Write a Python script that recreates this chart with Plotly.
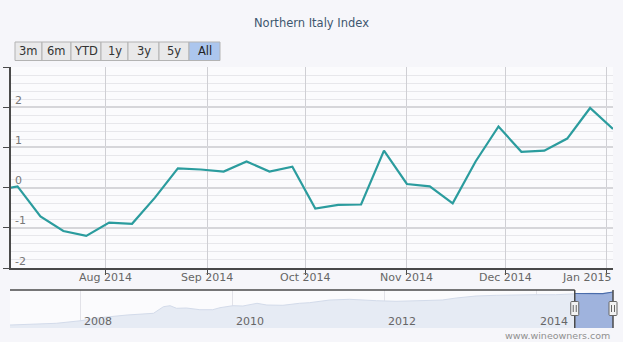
from datetime import date

import plotly.graph_objects as go

W, H = 623, 342

# Weekly index change (Saturdays)
week_dates = [
    "2014-06-28", "2014-07-05", "2014-07-12", "2014-07-19", "2014-07-26",
    "2014-08-02", "2014-08-09", "2014-08-16", "2014-08-23", "2014-08-30",
    "2014-09-06", "2014-09-13", "2014-09-20", "2014-09-27", "2014-10-04",
    "2014-10-11", "2014-10-18", "2014-10-25", "2014-11-01", "2014-11-08",
    "2014-11-15", "2014-11-22", "2014-11-29", "2014-12-06", "2014-12-13",
    "2014-12-20", "2014-12-27", "2015-01-03",
]
index_change = [
    -0.08, 0.03, -0.72, -1.08, -1.20,
    -0.87, -0.90, -0.25, 0.48, 0.45,
    0.40, 0.65, 0.40, 0.52, -0.52,
    -0.43, -0.42, 0.92, 0.09, 0.03,
    -0.39, 0.65, 1.52, 0.89, 0.92,
    1.22, 1.98, 1.46,
]

month_ticks = ["2014-08-01", "2014-09-01", "2014-10-01",
               "2014-11-01", "2014-12-01", "2015-01-01"]
month_labels = ["Aug 2014", "Sep 2014", "Oct 2014",
                "Nov 2014", "Dec 2014", "Jan 2015"]

y_ticks = [-2, -1, 0, 1, 2, 3]
y_labels = ["-2", "-1", "0", "1", "2", ""]

# Long-run index history shown in the navigator
nav_dates = [
    "2007-01-25", "2007-05-15", "2007-09-05", "2008-01-01", "2008-04-01",
    "2008-08-10", "2008-12-15", "2009-02-01", "2009-03-05", "2009-04-05",
    "2009-05-22", "2009-07-26", "2009-09-26", "2009-10-31", "2010-01-01",
    "2010-02-18", "2010-04-27", "2010-06-13", "2010-08-29", "2010-11-17",
    "2011-01-04", "2011-04-12", "2011-07-16", "2011-11-22", "2012-01-01",
    "2012-02-24", "2012-06-14", "2012-10-04", "2012-12-10", "2013-03-15",
    "2013-06-20", "2013-09-25", "2014-01-01", "2014-04-02", "2014-07-03",
    "2014-09-20", "2014-11-15", "2015-01-03",
]
nav_level = [
    3.0, 3.7, 4.7, 7.3, 10.3,
    13.0, 14.7, 21.3, 22.3, 19.7,
    20.0, 18.3, 18.3, 20.3, 22.3,
    22.0, 24.7, 23.0, 22.7, 24.7,
    25.3, 28.0, 28.7, 27.3, 27.1,
    26.7, 27.3, 28.0, 30.0, 32.0,
    32.7, 33.3, 33.3, 33.3, 34.5,
    34.8, 34.4, 36.0,
]
year_ticks = ["2008-01-01", "2010-01-01", "2012-01-01", "2014-01-01"]
year_labels = ["2008", "2010", "2012", "2014"]

range_buttons = ["3m", "6m", "YTD", "1y", "3y", "5y", "All"]
active_button = "All"

view_start, view_end = "2014-07-03", "2015-01-03"
nav_start = "2007-01-25"

FONT = "DejaVu Sans"

MAIN_X = (11, 613)      # main plot, pixel columns
NAV_X = (10, 613)       # navigator, pixel columns


def px_x(p):
    return p / W


def px_y(p):
    return 1 - p / H


def nav_paper_x(d):
    """Paper x of a date on the navigator's linear date axis."""
    t0 = date.fromisoformat(nav_start).toordinal()
    t1 = date.fromisoformat(view_end).toordinal()
    f = (date.fromisoformat(d).toordinal() - t0) / (t1 - t0)
    return px_x(NAV_X[0] + f * (NAV_X[1] - NAV_X[0]))


fig = go.Figure()

# navigator: full history (light) and the selected window (highlighted)
fig.add_trace(go.Scatter(
    x=nav_dates, y=nav_level, xaxis="x2", yaxis="y2", mode="lines",
    line=dict(color="#d3dbea", width=1), fill="tozeroy", fillcolor="#e6ebf4",
    hoverinfo="skip", showlegend=False,
))
sel = [(d, v) for d, v in zip(nav_dates, nav_level) if d >= view_start]
fig.add_trace(go.Scatter(
    x=[d for d, _ in sel], y=[v for _, v in sel], xaxis="x2", yaxis="y2",
    mode="lines", line=dict(color="#4b6dab", width=1.2), fill="tozeroy",
    fillcolor="#9fb3dd", hoverinfo="skip", showlegend=False,
))

# main series
fig.add_trace(go.Scatter(
    x=week_dates, y=index_change, mode="lines",
    line=dict(color="#2b9c9e", width=2.2), showlegend=False,
    name="Northern Italy Index",
))

shapes = []
annotations = []

# navigator outline around the selected window
outline = dict(color="#4a4a4a", width=1.5)
nav_top, nav_bot = 290, 328
shapes.append(dict(type="line", xref="paper", yref="paper",
                   x0=px_x(NAV_X[0]), x1=nav_paper_x(view_start),
                   y0=px_y(nav_top), y1=px_y(nav_top), line=outline))
for d in (view_start, view_end):
    xp = nav_paper_x(d)
    shapes.append(dict(type="line", xref="paper", yref="paper",
                       x0=xp, x1=xp, y0=px_y(nav_bot), y1=px_y(nav_top),
                       line=outline))

# navigator handles
handle_y = px_y(308.5)
for d in (view_start, view_end):
    xp = nav_paper_x(d)
    shapes.append(dict(
        type="path", xref="paper", yref="paper", xsizemode="pixel",
        ysizemode="pixel", xanchor=xp, yanchor=handle_y,
        path="M -3,-7 L 3,-7 Q 4,-7 4,-6 L 4,6 Q 4,7 3,7 L -3,7 "
             "Q -4,7 -4,6 L -4,-6 Q -4,-7 -3,-7 Z",
        fillcolor="#f2f2f2", line=dict(color="#666666", width=1),
    ))
    shapes.append(dict(
        type="path", xref="paper", yref="paper", xsizemode="pixel",
        ysizemode="pixel", xanchor=xp, yanchor=handle_y,
        path="M -1.5,-3.5 L -1.5,3.5 M 1.5,-3.5 L 1.5,3.5",
        line=dict(color="#666666", width=1),
    ))

# range selector buttons
btn_widths = [27, 29, 30, 27, 31, 30, 31]
bx = 15
b_top, b_bot = 42, 60.5
for label, w in zip(range_buttons, btn_widths):
    active = label == active_button
    shapes.append(dict(
        type="rect", xref="paper", yref="paper",
        x0=px_x(bx), x1=px_x(bx + w), y0=px_y(b_bot), y1=px_y(b_top),
        fillcolor="#acc6ee" if active else "#e9e9ea",
        line=dict(color="#b3b3b3", width=1), layer="above",
    ))
    annotations.append(dict(
        text=label, xref="paper", yref="paper",
        x=px_x(bx + w / 2), y=px_y((b_top + b_bot) / 2),
        xanchor="center", yanchor="middle", showarrow=False,
        font=dict(family=FONT, size=11.5, color="#222222" if active else "#333333"),
    ))
    bx += w

# y labels sit just above their gridlines, inside the plot
for v, lab in zip(y_ticks, y_labels):
    if lab:
        annotations.append(dict(
            text=lab, xref="paper", yref="y", x=px_x(MAIN_X[0] + 1.5), y=v,
            xanchor="left", yanchor="middle", yshift=7, showarrow=False,
            font=dict(family=FONT, size=11, color="#777777"),
        ))

# month labels under the main axis; the last one is kept inside the plot edge
for i, (d, lab) in enumerate(zip(month_ticks, month_labels)):
    last = i == len(month_ticks) - 1
    annotations.append(dict(
        text=lab, xref="x", yref="paper",
        x=view_end if last else d, y=px_y(277.5),
        xanchor="right" if last else "center", yanchor="middle",
        showarrow=False, font=dict(family=FONT, size=11, color="#666666"),
    ))

# year labels inside the navigator
for d, lab in zip(year_ticks, year_labels):
    annotations.append(dict(
        text=lab, xref="x2", yref="paper", x=d, y=px_y(321.5),
        xanchor="left", yanchor="middle", xshift=1, showarrow=False,
        font=dict(family=FONT, size=11, color="#666666"),
    ))

# credits
annotations.append(dict(
    text="www.wineowners.com", xref="paper", yref="paper",
    x=px_x(612), y=px_y(335.5), xanchor="right", yanchor="middle",
    showarrow=False, font=dict(family=FONT, size=9.5, color="#909090"),
))

fig.update_layout(
    width=W, height=H,
    margin=dict(l=0, r=0, t=0, b=0),
    paper_bgcolor="#f6f6fa",
    plot_bgcolor="#fbfbfd",
    font=dict(family=FONT, size=11, color="#666666"),
    title=dict(text="Northern Italy Index", x=0.5, xanchor="center",
               y=px_y(23), yanchor="middle", yref="paper",
               font=dict(family=FONT, size=11.5, color="#3e576f")),
    xaxis=dict(
        type="date", domain=[px_x(MAIN_X[0]), px_x(MAIN_X[1])], anchor="y",
        range=[view_start, view_end],
        tickvals=month_ticks, showticklabels=False,
        showgrid=True, gridcolor="#cfcfd4", gridwidth=1,
        ticks="outside", ticklen=5, tickcolor="#4a4a4a",
        showline=True, linecolor="#4a4a4a", linewidth=2,
        fixedrange=True,
    ),
    yaxis=dict(
        domain=[px_y(268), px_y(67)], anchor="x",
        range=[-2, 3], tickvals=y_ticks, showticklabels=False,
        showgrid=True, gridcolor="#d6d6da", gridwidth=2,
        minor=dict(dtick=0.2, showgrid=True, gridcolor="#e7e7eb",
                   gridwidth=1, ticks=""),
        zeroline=False,
        ticks="outside", ticklen=6, tickcolor="#4a4a4a",
        showline=True, linecolor="#4a4a4a", linewidth=1.5,
        fixedrange=True,
    ),
    xaxis2=dict(
        type="date", domain=[px_x(NAV_X[0]), px_x(NAV_X[1])], anchor="y2",
        range=[nav_start, view_end],
        tickvals=year_ticks, showticklabels=False,
        showgrid=True, gridcolor="#e2e2e8", gridwidth=1,
        ticks="", showline=False, fixedrange=True,
    ),
    yaxis2=dict(
        domain=[px_y(nav_bot), px_y(nav_top)], anchor="x2",
        range=[0, 38], showgrid=False, zeroline=False,
        showticklabels=False, ticks="", fixedrange=True,
    ),
    shapes=shapes,
    annotations=annotations,
)

fig.write_html("out.html")
